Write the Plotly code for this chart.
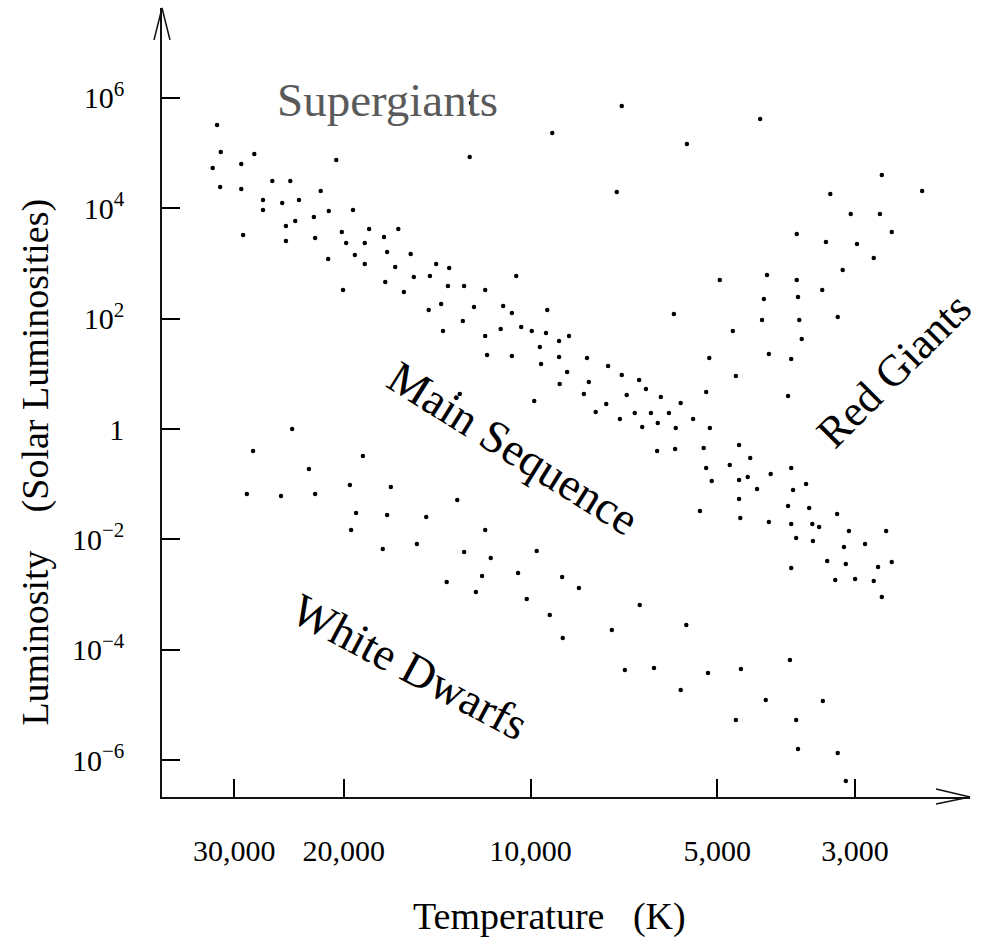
import plotly.graph_objects as go

# Hertzsprung-Russell diagram: log10 temperature (K) and log10 luminosity (solar units)
log_temp = [
    4.505, 4.499, 4.512, 4.466, 4.445, 4.500, 4.466, 4.313, 4.416, 4.387,
    4.338, 4.431, 4.431, 4.400, 4.373, 4.349, 4.325, 4.286, 4.463, 4.394,
    4.379, 4.394, 4.347, 4.304, 4.297, 4.260, 4.267, 4.236, 4.213, 4.326,
    4.283, 4.267, 4.231, 4.193, 4.218, 4.302, 4.234, 4.188, 4.162, 4.204,
    4.164,
    4.096, 3.853, 3.965, 3.748, 4.098, 3.861, 4.152, 4.131, 4.023, 4.133,
    4.107, 4.073, 4.144, 4.091, 4.044, 4.030, 3.973, 3.769, 4.109,
    3.630, 3.434, 3.369, 3.517, 3.484, 3.437, 3.571, 3.418, 3.524, 3.474,
    3.447, 3.497, 3.695, 3.619, 3.571, 3.530, 3.624, 3.569, 3.627, 3.567,
    3.505,
    4.384, 4.447, 4.270, 4.357, 4.291, 4.225, 4.457, 4.402, 4.347, 4.281,
    4.231, 4.168, 4.289, 4.238, 4.183,
    4.141, 4.073, 4.048, 4.015, 3.998, 3.975, 3.938, 3.954, 3.985, 4.070,
    4.030, 3.954, 3.909, 3.983, 3.875, 3.941, 3.853, 3.825, 3.953, 3.906,
    3.814, 3.914, 3.845, 3.790, 4.114, 3.994, 3.878, 3.758, 3.895, 3.832,
    3.806, 3.777, 3.856, 3.738, 3.820, 3.795, 3.766, 3.796, 3.767, 3.727,
    4.118, 4.073, 4.107, 4.064, 3.990,
    3.674, 3.563, 3.712, 3.616, 3.580, 3.669, 3.717, 3.585, 3.711, 3.721,
    3.664, 3.646, 3.679, 3.717, 3.580, 3.613, 3.708, 3.664, 3.650, 3.635,
    3.577, 3.556, 3.664, 3.585, 3.551, 3.506, 3.662, 3.616, 3.580, 3.546,
    3.535, 3.487, 3.427, 3.572, 3.545, 3.495, 3.461,
    3.522, 3.418, 3.580, 3.492, 3.440, 3.509, 3.477, 3.447, 3.434, 3.582,
    3.714, 3.661, 3.621, 3.529, 3.669, 3.572, 3.569, 3.505, 3.492,
    4.135, 4.078, 4.020, 3.949, 4.088, 4.006, 3.922, 3.969, 3.824, 3.948,
    3.869, 3.749, 3.848, 3.801, 3.758,
]
log_lum = [
    5.510, 5.021, 4.731, 4.803, 4.985, 4.386, 4.350, 4.876, 4.495, 4.495,
    4.314, 4.151, 3.970, 4.096, 4.151, 3.843, 3.951, 3.970, 3.516, 3.680,
    3.770, 3.408, 3.462, 3.571, 3.371, 3.625, 3.371, 3.480, 3.625, 3.081,
    3.154, 2.991, 3.208, 3.172, 2.936, 2.519, 2.664, 2.755, 2.773, 2.483,
    2.157,
    5.909, 5.855, 5.365, 5.166, 4.930, 4.296, 2.991, 2.918, 2.773, 2.592,
    2.592, 2.519, 2.266, 2.211, 2.229, 2.103, 2.157, 2.084, 1.958,
    5.619, 4.604, 4.314, 4.260, 3.897, 3.897, 3.535, 3.571, 3.390, 3.353,
    3.100, 2.882, 2.701, 2.791, 2.701, 2.519, 2.356, 2.393, 1.976, 1.976,
    2.030,
    0.000, -0.399, -0.490, -0.725, -1.015, -1.051, -1.178, -1.215, -1.178, -1.523,
    -1.559, -1.595, -1.831, -2.175, -2.085,
    1.776, 1.686, 1.812, 1.849, 1.776, 1.740, 1.686, 1.595, 1.486, 1.341,
    1.323, 1.305, 1.287, 1.178, 1.142, 1.033, 0.979, 0.888, 0.816, 0.852,
    0.725, 0.634, 0.616, 0.580, 0.634, 0.508, 0.453, 0.471, 0.308, 0.290,
    0.290, 0.290, 0.181, 0.181, 0.036, 0.109, 0.018, -0.399, -0.363, -1.486,
    -1.287, -1.831, -2.230, -2.338, -2.211,
    1.776, 1.631, 1.287, 1.359, 1.269, 0.961, 0.671, 0.598, 0.018, -0.344,
    -0.290, -0.526, -0.653, -0.707, -0.707, -0.816, -0.943, -0.925, -0.870, -1.088,
    -1.106, -0.997, -1.269, -1.396, -1.432, -1.541, -1.613, -1.686, -1.722, -1.722,
    -1.776, -1.849, -1.849, -1.976, -2.030, -2.139, -2.085,
    -2.393, -2.411, -2.520, -2.447, -2.501, -2.737, -2.719, -2.755, -3.045, -4.187,
    -4.423, -4.350, -4.912, -4.930, -5.275, -5.275, -5.800, -5.873, -6.380,
    -2.773, -2.665, -2.610, -2.683, -2.955, -3.082, -2.882, -3.372, -3.190, -3.788,
    -3.643, -3.553, -4.368, -4.332, -4.731,
]

temp_ticks = [30000, 20000, 10000, 5000, 3000]
temp_tick_labels = ["30,000", "20,000", "10,000", "5,000", "3,000"]
lum_ticks = [1e6, 1e4, 1e2, 1, 1e-2, 1e-4, 1e-6]
lum_tick_labels = ["10<sup>6</sup>", "10<sup>4</sup>", "10<sup>2</sup>", "1",
                   "10<sup>\u22122</sup>", "10<sup>\u22124</sup>", "10<sup>\u22126</sup>"]

temperature = [10 ** v for v in log_temp]
luminosity = [10 ** v for v in log_lum]

SERIF = "Liberation Serif, Times New Roman, serif"


def label(text, x, y, size, angle=0, color="black"):
    return dict(text=text, xref="paper", yref="paper", x=x, y=y,
                xanchor="center", yanchor="middle", showarrow=False,
                textangle=angle, font=dict(family=SERIF, size=size, color=color))


fig = go.Figure()
fig.add_trace(go.Scatter(
    x=temperature, y=luminosity, mode="markers",
    marker=dict(color="black", size=4.5, line=dict(width=0)),
    hoverinfo="skip", showlegend=False,
))

fig.update_layout(
    width=985, height=943,
    margin=dict(l=162, r=15, t=8, b=146),
    paper_bgcolor="white", plot_bgcolor="white",
    font=dict(family=SERIF, color="black", size=30),
    xaxis=dict(
        type="log", range=[4.5937, 3.2919],
        tickvals=temp_ticks, ticktext=temp_tick_labels,
        ticks="inside", ticklen=18, tickwidth=1.5, tickcolor="black",
        showline=True, linecolor="#111", linewidth=1.5,
        showgrid=False, zeroline=False,
        tickfont=dict(family=SERIF, size=30, color="black"),
        ticklabelstandoff=26,
    ),
    yaxis=dict(
        type="log", range=[-6.670, 7.631],
        tickvals=lum_ticks, ticktext=lum_tick_labels,
        ticks="inside", ticklen=18, tickwidth=1.5, tickcolor="black",
        showline=True, linecolor="#111", linewidth=1.5,
        showgrid=False, zeroline=False,
        tickfont=dict(family=SERIF, size=30, color="black"),
        ticklabelstandoff=30,
    ),
    shapes=[
        dict(type="path", xref="paper", yref="paper",
             path="M -0.0099,0.9594 L 0,1 L 0.0099,0.9594",
             line=dict(color="#111", width=1.5)),
        dict(type="path", xref="paper", yref="paper",
             path="M 0.958,0.0101 L 1,0 L 0.958,-0.0089",
             line=dict(color="#111", width=1.5)),
    ],
    annotations=[
        label("Supergiants", 0.2797, 0.8834, 47, color="#5a5a5a"),
        label("Main Sequence", 0.4356, 0.4423, 46, angle=32),
        label("White Dwarfs", 0.3057, 0.1648, 46, angle=28),
        label("Red Giants", 0.906, 0.540, 44, angle=-45),
        label("Luminosity\u00a0\u00a0\u00a0\u00a0(Solar Luminosities)", -0.157, 0.424, 38, angle=-90),
        label("Temperature\u00a0\u00a0\u00a0(K)", 0.480, -0.152, 38),
    ],
)

fig.write_html("out.html")
